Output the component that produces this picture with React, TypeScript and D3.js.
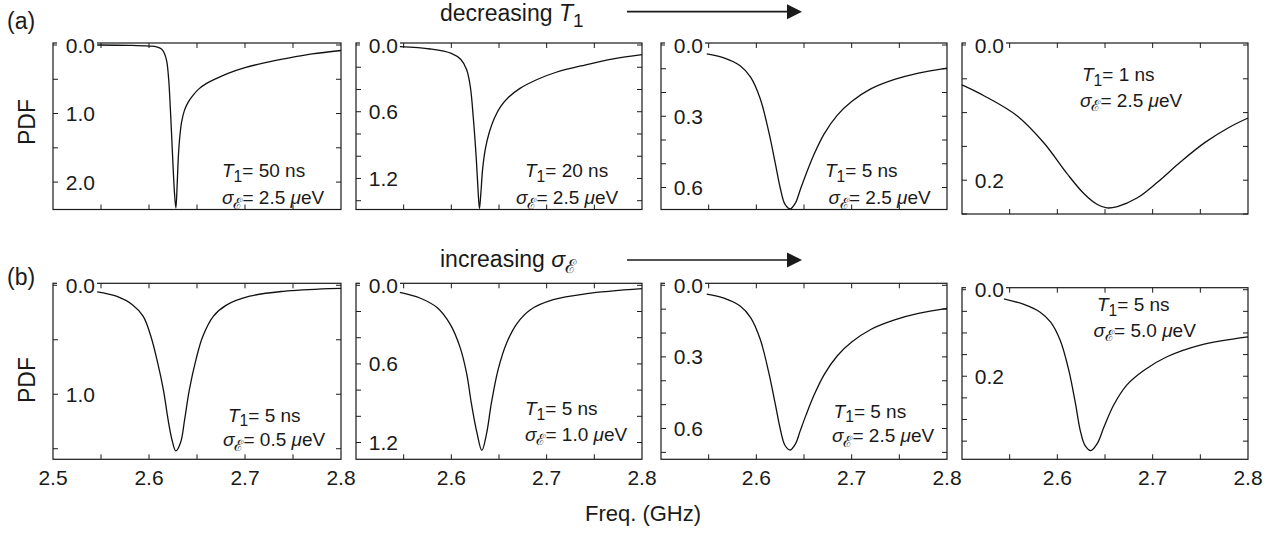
import React, { useEffect, useRef } from 'react'
import * as d3 from 'd3'

type Pt = [number, number]

// PDF curves: [frequency (GHz), PDF]
const curveT50s25: Pt[] = [
    [2.546, 0.0], [2.58, 0.005], [2.6, 0.015], [2.608, 0.028], [2.613, 0.06], [2.616, 0.12],
    [2.6185, 0.24], [2.6205, 0.5], [2.6225, 1.0], [2.6245, 1.6], [2.6265, 2.15], [2.628, 2.38],
    [2.6293, 2.05], [2.6305, 1.65], [2.632, 1.35], [2.634, 1.12], [2.637, 0.95], [2.641, 0.83],
    [2.646, 0.73], [2.652, 0.64], [2.66, 0.56], [2.67, 0.49], [2.683, 0.41], [2.7, 0.33],
    [2.72, 0.26], [2.745, 0.19], [2.77, 0.13], [2.8, 0.08],
]
const curveT20s25: Pt[] = [
    [2.546, 0.015], [2.578, 0.036], [2.6, 0.075], [2.61, 0.13], [2.616, 0.22], [2.62, 0.38],
    [2.623, 0.65], [2.626, 1.0], [2.628, 1.3], [2.6295, 1.47], [2.631, 1.33], [2.633, 1.1],
    [2.636, 0.92], [2.64, 0.78], [2.645, 0.66], [2.652, 0.55], [2.66, 0.47], [2.672, 0.39],
    [2.69, 0.31], [2.71, 0.245], [2.74, 0.18], [2.77, 0.125], [2.8, 0.087],
]
const curveT5s25: Pt[] = [
    [2.548, 0.037], [2.566, 0.054], [2.583, 0.087], [2.594, 0.135], [2.604, 0.225], [2.613, 0.365],
    [2.62, 0.5], [2.625, 0.6], [2.63, 0.67], [2.6355, 0.69], [2.641, 0.665], [2.646, 0.61],
    [2.652, 0.545], [2.66, 0.465], [2.671, 0.375], [2.685, 0.295], [2.7, 0.238], [2.72, 0.185],
    [2.745, 0.145], [2.77, 0.118], [2.8, 0.097],
]
const curveT1s25: Pt[] = [
    [2.5, 0.059], [2.523, 0.075], [2.558, 0.105], [2.586, 0.145], [2.61, 0.19], [2.628, 0.22],
    [2.642, 0.236], [2.652, 0.241], [2.663, 0.239], [2.684, 0.226], [2.705, 0.203], [2.73, 0.172],
    [2.755, 0.144], [2.78, 0.122], [2.8, 0.108],
]
const curveT5s05: Pt[] = [
    [2.546, 0.06], [2.566, 0.1], [2.583, 0.18], [2.594, 0.285], [2.602, 0.47], [2.609, 0.71],
    [2.615, 0.96], [2.62, 1.24], [2.624, 1.42], [2.628, 1.52], [2.633, 1.44], [2.637, 1.24],
    [2.642, 0.96], [2.649, 0.68], [2.656, 0.47], [2.667, 0.285], [2.681, 0.18], [2.705, 0.1],
    [2.74, 0.055], [2.788, 0.03], [2.8, 0.028],
]
const curveT5s10: Pt[] = [
    [2.546, 0.054], [2.567, 0.097], [2.585, 0.17], [2.599, 0.3], [2.609, 0.47], [2.616, 0.67],
    [2.621, 0.9], [2.627, 1.13], [2.632, 1.26], [2.637, 1.13], [2.642, 0.9], [2.649, 0.645],
    [2.658, 0.44], [2.669, 0.29], [2.683, 0.186], [2.707, 0.11], [2.742, 0.064], [2.8, 0.026],
]
const curveT5s50: Pt[] = [
    [2.544, 0.021], [2.565, 0.034], [2.582, 0.052], [2.593, 0.075], [2.603, 0.117], [2.612, 0.186],
    [2.619, 0.263], [2.624, 0.325], [2.629, 0.36], [2.635, 0.372], [2.642, 0.355], [2.649, 0.317],
    [2.659, 0.267], [2.673, 0.22], [2.691, 0.186], [2.715, 0.155], [2.75, 0.128], [2.8, 0.109],
]

const panelCurves = [curveT50s25, curveT20s25, curveT5s25, curveT1s25, curveT5s05, curveT5s10, curveT5s25, curveT5s50]
const t1Labels = ['50', '20', '5', '1', '5', '5', '5', '5']
const sigmaLabels = ['2.5', '2.5', '2.5', '2.5', '0.5', '1.0', '2.5', '5.0']

// y axes (PDF, drawn downwards)
const yMaxes = [2.4, 1.479, 0.6925, 0.25, 1.597, 1.328, 0.729, 0.392]
const yMajorTicks = [[0, 1, 2], [0, 0.6, 1.2], [0, 0.3, 0.6], [0, 0.2], [0, 1], [0, 0.6, 1.2], [0, 0.3, 0.6], [0, 0.2]]
const yMinorSteps = [0.5, 0.2, 0.1, 0.05, 0.5, 0.2, 0.1, 0.05]

// x axis
const xDomain: [number, number] = [2.5, 2.8]
const xTicks = [2.55, 2.6, 2.65, 2.7, 2.75]
const xLabelsFirst = [2.5, 2.6, 2.7, 2.8]
const xLabelsOther = [2.6, 2.7, 2.8]

// layout
const colX = [[53, 341], [356, 642], [661, 947], [962, 1248]]
const rowY = [[[43, 209.5], [43, 209.5], [43, 209.5], [43, 214]], [[283.3, 459.3], [283.3, 459.3], [283.3, 459.3], [287.7, 459.3]]]
const notePos = [
    [169, 134, 169, 161.3], [169, 134, 160, 161.3], [164, 134, 167.5, 161.3], [120, 38.3, 118, 63.7],
    [175, 138.4, 170, 162.7], [169, 131.7, 169, 157.4], [172.6, 134.4, 171, 159], [135, 23.3, 131.6, 49],
]

const FONT = '"Liberation Sans", Arial, Helvetica, sans-serif'
const INK = '#1a1a1a'

const addRich = (g: any, x: number, y: number, parts: [string, string][], size: number) => {
    const t = g.append('text')
        .attr('x', x)
        .attr('y', y)
        .attr('font-size', size)
        .attr('fill', INK)
        .style('white-space', 'pre')
    let shift = 0
    parts.forEach(([s, style]) => {
        const ts = t.append('tspan').text(s)
        if (style === 'i') ts.attr('font-style', 'italic')
        if (style === 'sub') {
            const d = size * 0.24
            ts.attr('font-size', size * 0.82).attr('dy', d)
            shift = d
        } else if (shift) {
            ts.attr('dy', -shift)
            shift = 0
        }
    })
    return t
}

const App = () => {
    const ref = useRef<HTMLDivElement>(null)

    useEffect(() => {
        const root = d3.select(ref.current)
        root.selectAll('svg').remove()

        const svg = root.append('svg')
            .attr('width', 1275)
            .attr('height', 535)
            .attr('viewBox', '0 0 1275 535')
            .attr('font-family', FONT)
            .style('display', 'block')
            .style('background', '#fff')

        panelCurves.forEach((data, i) => {
            const col = i % 4
            const row = Math.floor(i / 4)
            const [x0, x1] = colX[col]
            const [y0, y1] = rowY[row][col]
            const g = svg.append('g')

            const x = d3.scaleLinear().domain(xDomain).range([x0, x1])
            const y = d3.scaleLinear().domain([0, yMaxes[i]]).range([y0 + 2, y1])

            // frame
            g.append('rect')
                .attr('x', x0).attr('y', y0)
                .attr('width', x1 - x0).attr('height', y1 - y0)
                .attr('fill', 'none')
                .attr('stroke', INK)
                .attr('stroke-width', 1.2)

            // y ticks on both sides
            const step = yMinorSteps[i]
            const yt = d3.range(0, yMaxes[i] + 1e-9, step)
            yt.forEach(v => {
                g.append('line')
                    .attr('x1', x0).attr('x2', x0 + 5)
                    .attr('y1', y(v)).attr('y2', y(v))
                    .attr('stroke', INK).attr('stroke-width', 1)
                g.append('line')
                    .attr('x1', x1 - 5).attr('x2', x1)
                    .attr('y1', y(v)).attr('y2', y(v))
                    .attr('stroke', INK).attr('stroke-width', 1)
            })

            // x ticks top and bottom
            xTicks.forEach(v => {
                g.append('line')
                    .attr('x1', x(v)).attr('x2', x(v))
                    .attr('y1', y0).attr('y2', y0 + 5)
                    .attr('stroke', INK).attr('stroke-width', 1)
                g.append('line')
                    .attr('x1', x(v)).attr('x2', x(v))
                    .attr('y1', y1 - 5).attr('y2', y1)
                    .attr('stroke', INK).attr('stroke-width', 1)
            })

            // white patch behind the 0.0 label on the top edge
            g.append('rect')
                .attr('x', x0 + 4).attr('y', y0 - 9)
                .attr('width', 40).attr('height', 16)
                .attr('fill', '#fff')

            // curve
            const line = d3.line<Pt>()
                .x(d => x(d[0]))
                .y(d => y(d[1]))
                .curve(d3.curveCatmullRom.alpha(0.5))
            g.append('path')
                .datum(data)
                .attr('d', line)
                .attr('fill', 'none')
                .attr('stroke', '#111')
                .attr('stroke-width', 1.3)

            // y labels inside the frame
            yMajorTicks[i].forEach(v => {
                g.append('text')
                    .attr('x', x0 + 42)
                    .attr('y', y(v) + 7.5)
                    .attr('text-anchor', 'end')
                    .attr('font-size', 21)
                    .attr('fill', INK)
                    .text(d3.format('.1f')(v))
            })

            // x labels on the bottom row
            if (row === 1) {
                const labels = col === 0 ? xLabelsFirst : xLabelsOther
                labels.forEach(v => {
                    g.append('text')
                        .attr('x', x(v))
                        .attr('y', 485)
                        .attr('text-anchor', 'middle')
                        .attr('font-size', 21)
                        .attr('fill', INK)
                        .text(d3.format('.1f')(v))
                })
            }

            // annotation
            const [tx, ty, sx, sy] = notePos[i]
            addRich(g, x0 + tx, y0 + ty, [['T', 'i'], ['1', 'sub'], ['= ' + t1Labels[i] + ' ns', '']], 19)
            addRich(g, x0 + sx, y0 + sy, [['σ', 'i'], ['ℰ', 'sub'], ['= ' + sigmaLabels[i] + ' ', ''], ['μ', 'i'], ['eV', '']], 19)
        })

        // panel letters and axis titles
        svg.append('text').attr('x', 7).attr('y', 29).attr('font-size', 23).attr('fill', INK).text('(a)')
        svg.append('text').attr('x', 7).attr('y', 285).attr('font-size', 23).attr('fill', INK).text('(b)')

        ;[122, 380].forEach(cy => {
            svg.append('text')
                .attr('transform', `translate(35,${cy}) rotate(-90)`)
                .attr('text-anchor', 'middle')
                .attr('font-size', 23)
                .attr('fill', INK)
                .text('PDF')
        })

        svg.append('text')
            .attr('x', 643).attr('y', 521)
            .attr('text-anchor', 'middle')
            .attr('font-size', 22)
            .attr('fill', INK)
            .text('Freq. (GHz)')

        // trend headings with arrows
        addRich(svg, 440, 21, [['decreasing ', ''], ['T', 'i'], ['1', 'sub']], 23)
        addRich(svg, 440, 267, [['increasing ', ''], ['σ', 'i'], ['ℰ', 'sub']], 23)

        ;[11.7, 260].forEach(ay => {
            svg.append('line')
                .attr('x1', 627).attr('x2', 790)
                .attr('y1', ay).attr('y2', ay)
                .attr('stroke', INK).attr('stroke-width', 1.7)
            svg.append('path')
                .attr('d', `M787,${ay - 7.5} L802,${ay} L787,${ay + 7.5} Z`)
                .attr('fill', INK)
        })
    }, [])

    return (
        <div ref={ref} style={{ position: 'absolute', left: 0, top: 0, width: 1275, height: 535 }} />
    )
}

export default App
